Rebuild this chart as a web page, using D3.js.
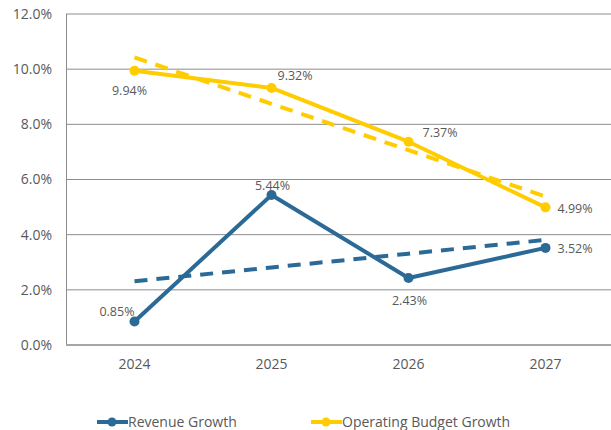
<!DOCTYPE html>
<html><head><meta charset="utf-8">
<script src="https://cdn.jsdelivr.net/npm/d3@7/dist/d3.min.js"></script>
<style>body{margin:0;background:#fff}svg{display:block}text{font-family:"Open Sans","Liberation Sans",sans-serif;fill:#595959}</style>
</head><body><svg id="c" width="611" height="430"></svg>
<script>
const years = ["2024","2025","2026","2027"];
const revenue = [0.85, 5.44, 2.43, 3.52];
const opBudget = [9.94, 9.32, 7.37, 4.99];
const yTicks = [0, 2, 4, 6, 8, 10, 12];
const seriesNames = ["Revenue Growth", "Operating Budget Growth"];
const colors = ["#2b6a96", "#ffcc00"];

const svg = d3.select("#c");
const x = d3.scaleBand().domain(years).range([66, 614]);
const y = d3.scaleLinear().domain([0, 12]).range([345, 14]);
const cx = d => x(d) + x.bandwidth() / 2;

// gridlines
svg.append("g").selectAll("line").data(yTicks.filter(t => t > 0)).join("line")
  .attr("x1", 66).attr("x2", 614).attr("y1", d => y(d)).attr("y2", d => y(d))
  .attr("stroke", "#8c8c8c").attr("stroke-width", 1);
svg.append("line").attr("x1", 66.5).attr("x2", 66.5).attr("y1", y(12)).attr("y2", y(0))
  .attr("stroke", "#8c8c8c");
svg.append("line").attr("x1", 66).attr("x2", 614).attr("y1", y(0)).attr("y2", y(0))
  .attr("stroke", "#a6a6a6").attr("stroke-width", 2);

// y axis labels
const yAxis = d3.axisLeft(y).tickValues(yTicks).tickSize(0).tickPadding(14).tickFormat(d => d.toFixed(1) + "%");
const ga = svg.append("g").attr("transform", "translate(66,0)").call(yAxis);
ga.select(".domain").remove();
ga.selectAll("text").style("font-size", "14px").attr("fill", "#595959");

// x axis labels
const xAxis = d3.axisBottom(x).tickSize(0).tickPadding(14);
const gx = svg.append("g").attr("transform", "translate(0,345)").call(xAxis);
gx.select(".domain").remove();
gx.selectAll("text").style("font-size", "14px").attr("fill", "#595959");

function trend(vals) {
  const n = vals.length, xs = d3.range(n);
  const mx = d3.mean(xs), my = d3.mean(vals);
  const slope = d3.sum(xs, (xi, i) => (xi - mx) * (vals[i] - my)) / d3.sum(xs, xi => (xi - mx) ** 2);
  return xs.map(xi => my + slope * (xi - mx));
}

const line = d3.line().x((d, i) => cx(years[i])).y(d => y(d));
[revenue, opBudget].forEach((vals, k) => {
  svg.append("path").attr("d", line(trend(vals))).attr("fill", "none")
    .attr("stroke", colors[k]).attr("stroke-width", 4).attr("stroke-dasharray", "13,9");
  svg.append("path").attr("d", line(vals)).attr("fill", "none")
    .attr("stroke", colors[k]).attr("stroke-width", 4).attr("stroke-linejoin", "round");
  svg.append("g").selectAll("circle").data(vals).join("circle")
    .attr("cx", (d, i) => cx(years[i])).attr("cy", d => y(d)).attr("r", 5).attr("fill", colors[k]);
});

// data labels: [dx, dy, anchor]
const revPos = [[0, -6, "end"], [1, -5, "middle"], [1, 27, "middle"], [12, 5, "start"]];
const opPos = [[-5, 24, "middle"], [6, -8, "start"], [14, -5, "start"], [12, 6, "start"]];
[[revenue, revPos], [opBudget, opPos]].forEach(([vals, pos]) => {
  svg.append("g").selectAll("text").data(vals).join("text")
    .attr("x", (d, i) => cx(years[i]) + pos[i][0])
    .attr("y", (d, i) => y(d) + pos[i][1])
    .attr("text-anchor", (d, i) => pos[i][2])
    .style("font-size", "12.5px")
    .text(d => d.toFixed(2) + "%");
});

// legend
const leg = [[97, 0], [311, 1]];
leg.forEach(([lx, k]) => {
  const g = svg.append("g");
  g.append("line").attr("x1", lx).attr("x2", lx + 31).attr("y1", 422).attr("y2", 422)
    .attr("stroke", colors[k]).attr("stroke-width", 4);
  g.append("circle").attr("cx", lx + 15).attr("cy", 422).attr("r", 4.5).attr("fill", colors[k]);
  g.append("text").attr("x", lx + 31).attr("y", 427).style("font-size", "14px").text(seriesNames[k]);
});
</script></body></html>
